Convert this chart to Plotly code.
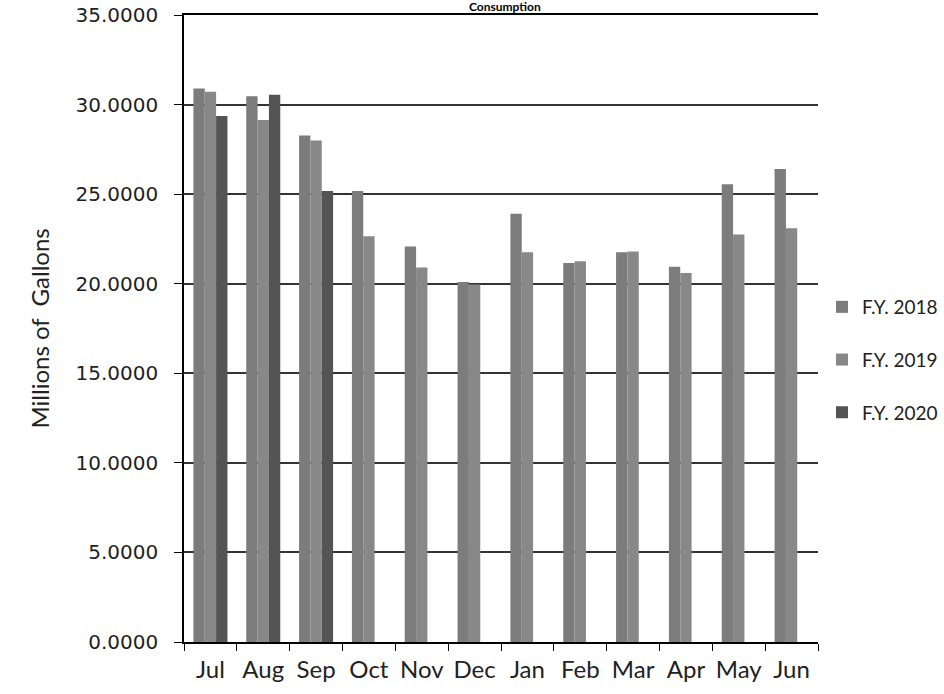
import plotly.graph_objects as go

months = ["Jul", "Aug", "Sep", "Oct", "Nov", "Dec", "Jan", "Feb", "Mar", "Apr", "May", "Jun"]
fy2018 = [30.90, 30.46, 28.27, 25.18, 22.08, 20.10, 23.90, 21.15, 21.75, 20.95, 25.55, 26.40]
fy2019 = [30.72, 29.14, 27.99, 22.65, 20.90, 19.95, 21.75, 21.25, 21.80, 20.60, 22.75, 23.10]
fy2020 = [29.36, 30.55, 25.18, None, None, None, None, None, None, None, None, None]

series = [
    ("F.Y. 2018", fy2018, "#7c7c7c"),
    ("F.Y. 2019", fy2019, "#888888"),
    ("F.Y. 2020", fy2020, "#545454"),
]

fig = go.Figure()
for i, (name, vals, col) in enumerate(series):
    fig.add_trace(go.Bar(
        x=months, y=vals, name=name, legendgroup=str(i),
        marker=dict(color=col, line=dict(width=0)),
    ))

fig.update_layout(
    width=944, height=694,
    margin=dict(l=184, r=126, t=15, b=52),
    paper_bgcolor="white", plot_bgcolor="white",
    barmode="group", bargap=0.356, bargroupgap=0,
    legend=dict(xref="container", yref="container",
                x=822 / 944, xanchor="left", y=1 - 360 / 694, yanchor="middle",
                font=dict(family="Lato", size=19, color="#222"),
                tracegroupgap=25, itemwidth=30, traceorder="grouped"),
    showlegend=True,
    annotations=[
        dict(text="<b>Consumption</b>", xref="paper", yref="paper",
             x=0.506, y=1, xanchor="center", yanchor="bottom",
             borderpad=0, showarrow=False,
             font=dict(family="Lato", size=12, color="black")),
        dict(text="Millions of  Gallons", xref="paper", yref="paper",
             x=(39 - 184) / 634, y=0.5, xanchor="center", yanchor="middle",
             textangle=-90, showarrow=False,
             font=dict(family="Lato", size=24, color="#222")),
    ],
)
fig.update_xaxes(
    automargin=False, tickangle=0,
    showline=True, linecolor="black", linewidth=1.5, mirror=True,
    ticks="outside", tickson="boundaries", ticklen=7, tickcolor="black",
    ticklabelstandoff=5,
    tickfont=dict(family="Lato", size=24, color="#222"),
    showgrid=False,
)
fig.update_yaxes(
    automargin=False, ticklabeloverflow="allow",
    range=[0, 35], dtick=5, tickformat=".4f",
    showline=True, linecolor="black", linewidth=1.5,
    ticks="outside", ticklen=8, tickcolor="black", ticklabelstandoff=12,
    tickfont=dict(family="DejaVu Sans", size=20, color="#222"),
    showgrid=True, gridcolor="#333", gridwidth=1.5,
    zeroline=False,
)

fig.write_html("out.html", config={"displayModeBar": False},
               post_script="document.body.style.margin='0';document.body.style.padding='0';")
